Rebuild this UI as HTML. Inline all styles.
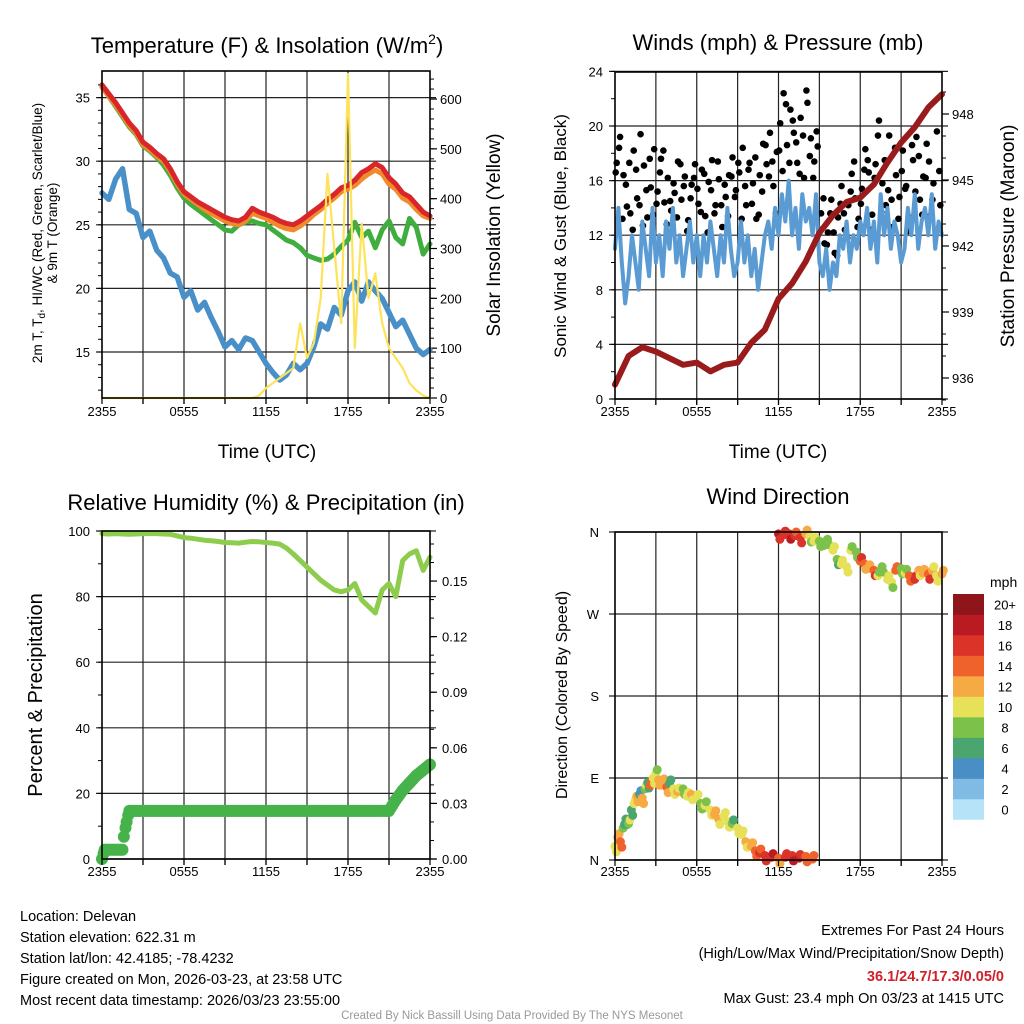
<!DOCTYPE html>
<html><head><meta charset="utf-8">
<style>
html,body{margin:0;padding:0;background:#fff;}
svg{display:block;font-family:"Liberation Sans",sans-serif;}
</style></head>
<body>
<svg id="s" width="1024" height="1024" viewBox="0 0 1024 1024" xmlns="http://www.w3.org/2000/svg">
<g id="texts" fill="#000">
<text x="267" y="53" font-size="22" text-anchor="middle">Temperature (F) &amp; Insolation (W/m<tspan font-size="14" dy="-9">2</tspan><tspan dy="9">)</tspan></text>
<text x="778" y="50" font-size="22" text-anchor="middle">Winds (mph) &amp; Pressure (mb)</text>
<text x="266" y="510" font-size="22" text-anchor="middle">Relative Humidity (%) &amp; Precipitation (in)</text>
<text x="778" y="504" font-size="22" text-anchor="middle">Wind Direction</text>
<text x="267" y="458" font-size="19" text-anchor="middle">Time (UTC)</text>
<text x="778" y="458" font-size="19" text-anchor="middle">Time (UTC)</text>
<text transform="translate(42,233) rotate(-90)" font-size="13.5" text-anchor="middle">2m T, T<tspan font-size="10" dy="3">d</tspan><tspan dy="-3">, HI/WC (Red, Green, Scarlet/Blue)</tspan></text>
<text transform="translate(57,233) rotate(-90)" font-size="13.5" text-anchor="middle">&amp; 9m T (Orange)</text>
<text transform="translate(500,235) rotate(-90)" font-size="19" text-anchor="middle">Solar Insolation (Yellow)</text>
<text transform="translate(566,236) rotate(-90)" font-size="17" text-anchor="middle">Sonic Wind &amp; Gust (Blue, Black)</text>
<text transform="translate(1014,236) rotate(-90)" font-size="19" text-anchor="middle">Station Pressure (Maroon)</text>
<text transform="translate(42,695) rotate(-90)" font-size="20" text-anchor="middle">Percent &amp; Precipitation</text>
<text transform="translate(567,695) rotate(-90)" font-size="16" text-anchor="middle">Direction (Colored By Speed)</text>
<text x="990" y="587" font-size="14">mph</text>
<g font-size="14.5">
<text x="20" y="921">Location: Delevan</text>
<text x="20" y="942">Station elevation: 622.31 m</text>
<text x="20" y="963">Station lat/lon: 42.4185; -78.4232</text>
<text x="20" y="984">Figure created on Mon, 2026-03-23, at 23:58 UTC</text>
<text x="20" y="1005">Most recent data timestamp: 2026/03/23 23:55:00</text>
</g>
<g font-size="14.5" text-anchor="end">
<text x="1004" y="935">Extremes For Past 24 Hours</text>
<text x="1004" y="958">(High/Low/Max Wind/Precipitation/Snow Depth)</text>
<text x="1004" y="981" fill="#d0202a" font-weight="bold">36.1/24.7/17.3/0.05/0</text>
<text x="1004" y="1003">Max Gust: 23.4 mph On 03/23 at 1415 UTC</text>
</g>
<text x="512" y="1019" font-size="11.5" fill="#999" text-anchor="middle">Created By Nick Bassill Using Data Provided By The NYS Mesonet</text>
</g>
</svg>
<script>
// ---------- data (half-hourly unless noted) ----------
const tempRed = [36,35.3,34.6,33.8,33,32.4,31.5,31.1,30.6,30.2,29.4,28.4,27.6,27.2,26.8,26.5,26.2,25.9,25.6,25.4,25.3,25.6,26.3,26,25.8,25.6,25.3,25.1,25.0,25.3,25.7,26.1,26.5,27.0,27.4,27.9,28.1,28.5,29.1,29.4,29.8,29.5,28.7,28.2,27.5,27.2,26.6,26.0,25.7];
const tempOrange = [35.8,35.1,34.4,33.6,32.8,32.2,31.3,30.9,30.4,30.0,29.2,28.2,27.4,27.0,26.6,26.2,25.9,25.6,25.3,25.1,25.0,25.3,25.9,25.7,25.5,25.2,24.9,24.7,24.6,24.9,25.3,25.8,26.2,26.7,27.1,27.6,27.8,28.1,28.6,29.0,29.3,29.0,28.2,27.8,27.1,26.8,26.2,25.7,25.5];
const tempGreen = [35.9,35.1,34.3,33.5,32.7,32.1,31.2,30.8,30.3,29.7,28.9,27.9,27.1,26.6,26.2,25.8,25.4,25.0,24.6,24.5,25.0,25.2,25.3,25.1,25.0,24.6,24.2,23.8,23.6,23.2,22.6,22.4,22.2,22.3,22.7,23.3,23.8,25.2,24.0,24.5,23.2,24.6,25.3,24.0,23.5,25.5,24.8,22.7,23.5];
const tempBlue = [27.5,27.0,28.6,29.4,26.2,25.9,24.0,24.5,23.0,22.4,21.2,20.9,19.3,19.8,18.3,18.9,17.7,16.6,15.4,15.9,15.2,16.1,15.9,15.0,14.1,13.4,12.8,13.2,14.1,13.6,14.1,15.4,17.2,16.8,18.5,17.9,19.8,20.5,19.0,20.5,19.8,19.2,18.1,17.0,17.5,16.4,15.3,14.8,15.2];
const solar = [0,0,0,0,0,0,0,0,0,0,0,0,0,0,0,0,0,0,0,0,0,0,0,5,20,30,40,50,60,150,80,110,200,450,300,150,650,100,350,200,250,150,100,80,60,30,15,5,0];
// winds: 15-minute values (mph)
const windSpeed = [11,14,10,7,9,12,10,8,13,11,9,14,10,12,9,13,11,14,10,12,9,11,13,10,12,9,12,10,13,11,9,12,10,14,11,9,10,13,10,12,9,11,8,10,12,13,11,14,12,15,13,16,12,14,11,15,13,14,12,15,10,9,11,8,10,9,12,11,13,10,12,11,13,12,14,11,13,10,15,12,14,11,13,12,10,11,14,12,15,11,13,14,12,15,11,13,12];
const windGust = [17.3,19.2,16.4,14.1,13.6,18.2,14.7,19.4,17.1,13.3,15.5,18.3,15.2,17.6,14.4,16.2,13.8,15.1,17.4,14.6,16.3,13.1,15.7,17.2,14.3,16.8,13.4,15.9,17.5,14.2,16.1,12.6,14.8,16.4,17.7,15.3,16.6,18.4,14.2,17.3,15.8,13.2,16.4,18.7,17.2,19.5,15.6,18.1,20.2,22.4,18.6,21.2,19.5,17.3,20.6,16.2,21.7,19.1,17.4,18.5,13.6,11.4,12.2,14.6,10.7,13.3,15.6,12.4,14.2,16.5,14.7,13.2,15.4,18.3,16.6,13.5,17.2,20.4,15.8,14.2,19.3,12.6,16.4,14.8,18.2,15.6,13.3,17.5,19.2,14.6,16.3,18.7,13.4,15.8,19.6,14.2];
const windGust2 = [16.6,18.4,13.2,15.7,17.3,12.4,16.8,14.2,12.7,15.3,17.6,13.5,14.3,16.6,18.2,12.8,14.5,15.8,13.3,17.2,15.6,12.3,14.7,16.2,15.4,13.7,16.5,12.2,15.3,13.6,17.4,14.2,15.7,13.4,16.3,14.8,17.3,13.2,15.6,16.8,14.3,17.7,13.5,15.2,18.6,16.3,17.4,13.6,18.2,16.7,21.6,17.3,20.4,18.8,16.5,19.3,22.6,17.8,16.2,19.6,12.4,14.7,11.3,13.6,12.2,10.5,14.3,13.6,11.8,15.2,17.4,12.6,14.3,16.8,17.5,12.4,16.2,19.3,13.7,17.5,15.3,14.6,18.4,13.2,16.7,15.4,12.3,18.6,15.2,17.8,13.5,16.2,17.4,14.6,12.3,16.7];
// pressure hourly (mb)
const pressure = [935.7,937.0,937.4,937.2,936.9,936.6,936.7,936.3,936.6,936.7,937.6,938.2,939.6,940.3,941.3,942.6,943.4,944.0,944.2,944.8,945.8,946.7,947.4,948.3,948.9];
// relative humidity half-hourly (%)
const rhum = [99.2,99.1,99.2,99.1,99.0,99.1,99.2,99.2,99.2,99.1,99.0,98.5,98.0,97.8,97.5,97.2,97.0,96.8,96.5,96.4,96.3,96.6,96.8,96.7,96.5,96.3,96.0,94.8,93.0,91.0,89.0,87.0,85.0,83.5,82.0,81.5,82.0,84.0,79.0,77.0,75.0,82.0,84.0,80.0,91.0,93.0,94.0,88.0,92.0];
// precipitation accumulation (in) at times (h)
const precipT = [0,0.2,1.5,1.6,1.8,2.0,21.0,21.5,22.0,22.5,23.0,23.5,24.0];
const precipV = [0,0.005,0.005,0.012,0.02,0.026,0.026,0.032,0.037,0.041,0.045,0.048,0.051];
// wind direction points
const dirT = [0,0.2,0.4,0.6,0.8,1.0,1.2,1.4,1.6,1.8,2.0,2.2,2.4,2.6,2.8,3.0,3.2,3.5,3.8,4.0,4.3,4.6,5.0,5.3,5.6,6.0,6.3,6.6,7.0,7.3,7.6,8.0,8.3,8.6,9.0,9.3,9.6,10.0,10.3,10.6,11.0,11.5,12.0,12.5,13.0,13.5,14.0,14.5,12.0,12.4,12.8,13.2,13.6,14.0,14.3,14.6,15.0,15.3,15.6,16.0,16.3,16.6,17.0,17.3,17.7,18.0,18.3,18.6,19.0,19.3,19.6,20.0,20.3,20.6,21.0,21.3,21.6,22.0,22.3,22.6,23.0,23.3,23.6,24.0];
const dirDeg = [15,25,20,35,45,40,55,62,70,72,68,78,85,82,90,95,88,85,80,84,78,75,78,70,72,68,62,60,55,50,45,48,42,40,35,28,20,15,10,8,5,3,2,3,5,2,4,1,358,357,358,356,354,358,355,350,350,345,352,340,330,325,322,340,338,328,325,320,318,312,322,308,305,318,320,315,312,308,318,315,314,318,312,314];
const dirSpd = [11,13,14,8,7,9,7,10,12,6,13,9,7,14,10,10,12,12,14,7,10,12,9,10,12,10,8,10,10,12,12,11,10,8,10,10,12,12,14,16,16,17,14,16,17,18,15,14,18,17,17,16,17,12,10,10,8,9,8,10,8,10,10,10,8,15,14,12,15,10,8,10,10,15,8,10,14,16,12,12,15,12,11,12];
const tempTicks = [15,20,25,30,35];
const solarTicks = [0,100,200,300,400,500,600];
const windTicks = [0,4,8,12,16,20,24];
const presTicks = [936,939,942,945,948];
const rhTicks = [0,20,40,60,80,100];
const prTicks = [0,0.03,0.06,0.09,0.12,0.15];
const prTickLabels = ['0.00','0.03','0.06','0.09','0.12','0.15'];
const timeLabels = ['2355','0555','1155','1755','2355'];
const dirLabels = ['N','E','S','W','N'];
const cbLabels = ['0','2','4','6','8','10','12','14','16','18','20+'];
const cbColors = ['#b7e3f8','#80bbe5','#4a8ec6','#4aa56f','#7cc24a','#e6e159','#f6aa44','#f0622b','#db3328','#ba1b23','#8e1519'];

// ---------- scales ----------
const NS='http://www.w3.org/2000/svg';
const svg=document.getElementById('s');
const P1={x0:102,x1:430,y0:71,y1:398};
const P2={x0:615,x1:942,y0:72,y1:399};
const P3={x0:102,x1:430,y0:531,y1:859};
const P4={x0:615,x1:942,y0:532,y1:860};
const xs=(P)=>t=>P.x0+t*(P.x1-P.x0)/24;
const X1=xs(P1),X2=xs(P2);
const Yt=v=>352-(v-15)*12.72;
const Ys=v=>398-v*0.4983;
const Yw=v=>399-v*13.65;
const Yp=p=>378-(p-936)*22;
const Yr=v=>859-v*3.28;
const Ypr=v=>859-v*1853;
const Yd=d=>860-d*(328/360);

function mk(tag,attrs,name,parent){
  const el=document.createElementNS(NS,tag);
  for(const k in attrs) el.setAttribute(k,attrs[k]);
  
  
  (parent||svg).appendChild(el);
  return el;
}
function txt(x,y,s,anchor,size,name){
  const el=mk('text',{x:x,y:y,'font-size':size||13,'text-anchor':anchor||'middle'},name);
  el.textContent=s;
  return el;
}
function X(P){return xs(P);}
function frame(P,name){
  for(let h=3;h<24;h+=3){
    mk('line',{x1:X(P)(h),x2:X(P)(h),y1:P.y0,y2:P.y1+6,stroke:'#222','stroke-width':1.2},name+'-vgrid');
  }
}
function hgrid(P,y,name){
  mk('line',{x1:P.x0-6,x2:P.x1+6,y1:y,y2:y,stroke:'#222','stroke-width':1.2},name);
}
function box(P,name){
  mk('rect',{x:P.x0,y:P.y0,width:P.x1-P.x0,height:P.y1-P.y0,fill:'none',stroke:'#000','stroke-width':1.6},name);
  for(let h=0;h<=24;h+=3){
    mk('line',{x1:X(P)(h),x2:X(P)(h),y1:P.y1,y2:P.y1+6,stroke:'#000','stroke-width':1.2},name+'-xtick');
  }
}
function xlabels(P,y,name){
  timeLabels.forEach((s,i)=>{txt(X(P)(i*6),y,s,'middle',13,name);});
}
function poly(pts,stroke,w,name,op){
  return mk('polyline',{points:pts.map(p=>p[0].toFixed(1)+','+p[1].toFixed(1)).join(' '),fill:'none',stroke:stroke,'stroke-width':w,'stroke-linejoin':'round','stroke-linecap':'round',opacity:op||1},name);
}
function minorTicks(x,from,to,step,yf,dir,name){
  for(let v=from;v<=to+1e-9;v+=step){
    const y=yf(v);
    mk('line',{x1:x,x2:x+dir*4,y1:y,y2:y,stroke:'#000','stroke-width':1},name);
  }
}

// ---------- panel 1 ----------
frame(P1,'temp');
tempTicks.forEach(v=>hgrid(P1,Yt(v),'temp-hgrid'));
minorTicks(P1.x0,12,36,1,Yt,-1,'temp-left-minor-tick');
minorTicks(P1.x1,0,640,20,Ys,1,'solar-right-minor-tick');
solarTicks.forEach(v=>mk('line',{x1:P1.x1,x2:P1.x1+7,y1:Ys(v),y2:Ys(v),stroke:'#000','stroke-width':1.2},'solar-right-tick'));
const half=(arr,Xf,Yf)=>arr.map((v,i)=>[Xf(i*0.5),Yf(v)]);
poly(half(tempBlue,X1,Yt),'#4a90c8',5.5,'hiwc-blue-line');
poly(half(tempGreen,X1,Yt),'#3fae3f',5,'dewpoint-green-line');
poly(half(tempOrange,X1,Yt),'#f08a2b',5,'9m-temp-orange-line');
poly(half(tempRed,X1,Yt),'#d9262a',5,'2m-temp-red-line');
poly(half(solar,X1,Ys),'#fde35a',2.2,'solar-yellow-line');
box(P1,'temp-frame');
tempTicks.forEach(v=>txt(P1.x0-12,Yt(v)+5,String(v),'end',13,'temp-y-tick-label'));
solarTicks.forEach(v=>txt(P1.x1+10,Ys(v)+5,String(v),'start',13,'solar-y-tick-label'));
xlabels(P1,416,'temp-x-tick-label');

// ---------- panel 2 ----------
frame(P2,'wind');
windTicks.forEach(v=>hgrid(P2,Yw(v),'wind-hgrid'));
minorTicks(P2.x0,0,24,2,Yw,-1,'wind-left-minor-tick');
minorTicks(P2.x1,935,949,1,Yp,1,'pressure-right-minor-tick');
presTicks.forEach(v=>mk('line',{x1:P2.x1,x2:P2.x1+7,y1:Yp(v),y2:Yp(v),stroke:'#000','stroke-width':1.2},'pressure-right-tick'));
windGust.forEach((v,i)=>{
  mk('circle',{cx:X2(i*0.25+0.125),cy:Yw(v),r:3.3,fill:'#000'},'gust-dot');
});
windGust2.forEach((v,i)=>{
  mk('circle',{cx:X2(i*0.25+0.05),cy:Yw(v),r:3.3,fill:'#000'},'gust-dot');
});
poly(windSpeed.map((v,i)=>[X2(i*0.25),Yw(v)]),'#5a9bd4',4,'sonic-wind-blue-line');
poly(pressure.map((v,i)=>[X2(i),Yp(v)]),'#9a1b1b',6,'pressure-maroon-line');
box(P2,'wind-frame');
windTicks.forEach(v=>txt(P2.x0-12,Yw(v)+5,String(v),'end',13,'wind-y-tick-label'));
presTicks.forEach(v=>txt(P2.x1+10,Yp(v)+5,String(v),'start',13,'pressure-y-tick-label'));
xlabels(P2,416,'wind-x-tick-label');

// ---------- panel 3 ----------
frame(P3,'rh');
rhTicks.forEach(v=>hgrid(P3,Yr(v),'rh-hgrid'));
minorTicks(P3.x0,0,100,10,Yr,-1,'rh-left-minor-tick');
minorTicks(P3.x1,0,0.17,0.01,Ypr,1,'precip-right-minor-tick');
prTicks.forEach(v=>mk('line',{x1:P3.x1,x2:P3.x1+7,y1:Ypr(v),y2:Ypr(v),stroke:'#000','stroke-width':1.2},'precip-right-tick'));
poly(half(rhum,X1,Yr),'#8dcc4c',5,'rh-line');
for(let k=0;k<precipT.length-1;k++){
  const t0=precipT[k],t1=precipT[k+1];
  for(let t=t0;t<t1;t+=0.12){
    const f=(t-t0)/(t1-t0);
    const v=precipV[k]+(precipV[k+1]-precipV[k])*f;
    mk('circle',{cx:X1(t),cy:Ypr(v),r:6,fill:'#46b34a'},'precip-dot');
  }
}
mk('circle',{cx:X1(24),cy:Ypr(precipV[precipV.length-1]),r:6,fill:'#46b34a'},'precip-dot');
box(P3,'rh-frame');
rhTicks.forEach(v=>txt(P3.x0-12,Yr(v)+5,String(v),'end',13,'rh-y-tick-label'));
prTicks.forEach((v,i)=>txt(P3.x1+12,Ypr(v)+5,prTickLabels[i],'start',13,'precip-y-tick-label'));
xlabels(P3,876,'rh-x-tick-label');

// ---------- panel 4 ----------
frame(P4,'dir');
[0,90,180,270,360].forEach(v=>hgrid(P4,Yd(v),'dir-hgrid'));
const spdColor=s=>cbColors[Math.min(10,Math.max(0,Math.floor(s/2)))];
dirT.forEach((t,i)=>{
  mk('circle',{cx:X2(t),cy:Yd(dirDeg[i]),r:4.5,fill:spdColor(dirSpd[i])},'direction-dot');
  mk('circle',{cx:X2(t+0.1),cy:Yd(dirDeg[i]+(i%2?4:-6)),r:4.5,fill:spdColor(dirSpd[i]+(i%3-1))},'direction-dot');
});
box(P4,'dir-frame');
dirLabels.forEach((s,i)=>txt(P4.x0-16,Yd(i*90)+5,s,'end',13,'dir-y-tick-label'));
xlabels(P4,876,'dir-x-tick-label');
const cbH=20.5, cbTop=594;
cbColors.forEach((c,i)=>{
  const y=cbTop+(10-i)*cbH;
  mk('rect',{x:953,y:y,width:31,height:cbH+0.3,fill:c},'colorbar-swatch');
  txt(1005,y+cbH/2+5,cbLabels[i],'middle',13,'colorbar-label');
});
</script>
</body></html>
